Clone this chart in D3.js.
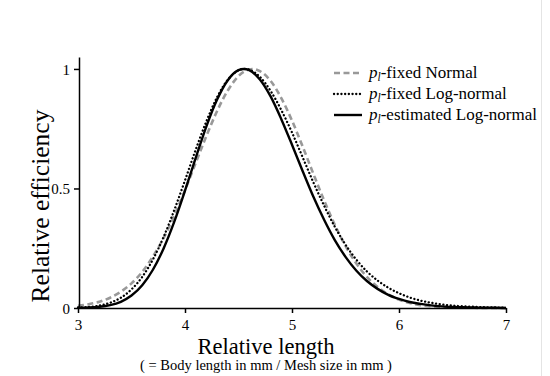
<!DOCTYPE html>
<html>
<head>
<meta charset="utf-8">
<script src="https://cdn.jsdelivr.net/npm/d3@7"></script>
<style>
  html, body { margin: 0; padding: 0; background: #fff; }
  svg { display: block; }
  text { font-family: "Liberation Serif", "Times New Roman", serif; fill: #000; }
</style>
</head>
<body>
<svg id="chart" width="550" height="376"></svg>
<script>
// Relative length grid (x values)
const lengths = [3.0,3.1,3.2,3.3,3.4,3.5,3.6,3.7,3.8,3.9,
                 4.0,4.1,4.2,4.3,4.4,4.5,4.6,4.7,4.8,4.9,
                 5.0,5.1,5.2,5.3,5.4,5.5,5.6,5.7,5.8,5.9,
                 6.0,6.1,6.2,6.3,6.4,6.5,6.6,6.7,6.8,6.9,7.0];
// p_l-fixed Normal
const normalFixed = [0.009,0.016,0.026,0.043,0.068,0.103,0.151,0.215,0.293,0.387,
                     0.493,0.607,0.720,0.824,0.910,0.970,0.998,0.991,0.950,0.878,
                     0.784,0.675,0.561,0.450,0.348,0.260,0.187,0.130,0.088,0.057,
                     0.035,0.021,0.012,0.007,0.004,0.002,0.001,0.001,0,0,0];
// p_l-fixed Log-normal
const lognormalFixed = [0.002,0.004,0.010,0.022,0.043,0.078,0.130,0.203,0.297,0.410,
                        0.534,0.662,0.781,0.882,0.955,0.994,0.997,0.967,0.908,0.828,
                        0.734,0.630,0.525,0.428,0.340,0.265,0.203,0.153,0.115,0.085,
                        0.062,0.044,0.031,0.022,0.015,0.010,0.007,0.005,0.003,0.002,0.001];
// p_l-estimated Log-normal
const lognormalEst = [0.001,0.002,0.005,0.012,0.026,0.052,0.095,0.160,0.249,0.361,
                      0.491,0.628,0.760,0.872,0.953,0.995,0.995,0.956,0.885,0.790,
                      0.683,0.572,0.465,0.369,0.284,0.214,0.157,0.113,0.080,0.055,
                      0.038,0.025,0.017,0.011,0.007,0.004,0.003,0.002,0.001,0.001,0];
// Peak positions (efficiency = 1)
const peakLengths = [4.63, 4.56, 4.55];
const seriesLabels = ["-fixed Normal", "-fixed Log-normal", "-estimated Log-normal"];
const xTicks = [3, 4, 5, 6, 7];
const yTicks = [0, 0.5, 1];
const yTickLabels = ["0", "0.5", "1"];

const svg = d3.select("#chart");
const x = d3.scaleLinear().domain([3, 7]).range([78, 506]);
const y = d3.scaleLinear().domain([0, 1.05]).range([308, 57]);

// faint right border line
svg.append("line").attr("x1", 541.5).attr("x2", 541.5).attr("y1", 0).attr("y2", 376)
  .attr("stroke", "#e4e4e4").attr("stroke-width", 1);

const styles = [
  {stroke: "#999", width: 2.6, dash: "6 3.5", cap: "butt"},
  {stroke: "#000", width: 2.3, dash: "0.1 3.6", cap: "round"},
  {stroke: "#000", width: 2.4, dash: null, cap: "butt"}
];
const seriesValues = [normalFixed, lognormalFixed, lognormalEst];

const line = d3.line().x(d => x(d[0])).y(d => y(d[1])).curve(d3.curveMonotoneX);

seriesValues.forEach((vals, i) => {
  const pts = lengths.map((l, j) => [l, vals[j]]);
  pts.push([peakLengths[i], 1]);
  pts.sort((a, b) => a[0] - b[0]);
  const s = styles[i];
  svg.append("path").datum(pts).attr("d", line)
    .attr("fill", "none").attr("stroke", s.stroke).attr("stroke-width", s.width)
    .attr("stroke-linecap", s.cap).attr("stroke-linejoin", "round")
    .attr("stroke-dasharray", s.dash);
});

// Axes
const xAxis = svg.append("g").attr("transform", "translate(0,308)")
  .call(d3.axisBottom(x).tickValues(xTicks).tickFormat(d3.format("d")).tickSize(5).tickSizeOuter(0));
const yAxis = svg.append("g").attr("transform", "translate(79,0)")
  .call(d3.axisLeft(y).tickValues(yTicks).tickFormat((d, i) => yTickLabels[i]).tickSize(5).tickSizeOuter(0));
[xAxis, yAxis].forEach(g => {
  g.select(".domain").attr("stroke", "#000").attr("stroke-width", 1.5);
  g.selectAll(".tick line").attr("stroke", "#000").attr("stroke-width", 1.5);
  g.selectAll(".tick text").style("font-family", '"Liberation Serif", "Times New Roman", serif')
    .style("font-size", "15px").attr("fill", "#000");
});
xAxis.selectAll(".tick text").attr("dy", 0).attr("y", 22);
yAxis.selectAll(".tick text").attr("x", -9).attr("dy", "0.35em");

// Axis titles
svg.append("text").attr("x", 266).attr("y", 353.5).attr("text-anchor", "middle")
  .style("font-size", "22.5px").text("Relative length");
svg.append("text").attr("x", 266).attr("y", 369.5).attr("text-anchor", "middle")
  .style("font-size", "14.5px").text("( = Body length in mm / Mesh size in mm )");
svg.append("text").attr("transform", "translate(49,206) rotate(-90)").attr("text-anchor", "middle")
  .style("font-size", "25.5px").text("Relative efficiency");

// Legend
const legendY = [73, 94, 115];
seriesLabels.forEach((lab, i) => {
  const s = styles[i];
  svg.append("line").attr("x1", 334).attr("x2", 362).attr("y1", legendY[i]).attr("y2", legendY[i])
    .attr("stroke", s.stroke).attr("stroke-width", s.width).attr("stroke-linecap", s.cap)
    .attr("stroke-dasharray", s.dash);
  const t = svg.append("text").attr("x", 369).attr("y", legendY[i] + 5).style("font-size", "17px");
  t.append("tspan").style("font-style", "italic").text("p");
  t.append("tspan").style("font-style", "italic").style("font-size", "11.5px").attr("dy", 3).text("l");
  t.append("tspan").attr("dy", -3).text(lab);
});
</script>
</body>
</html>
